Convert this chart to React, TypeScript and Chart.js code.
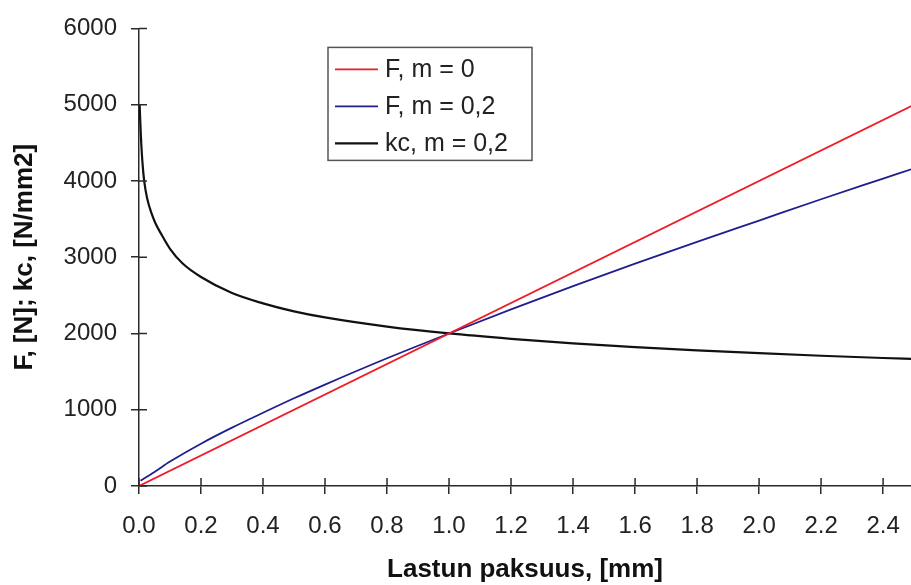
import { useEffect, useRef } from "react";
import { Chart, registerables } from "chart.js";

Chart.register(...registerables);

// ---- data ----
const X_TICKS = [0, 0.2, 0.4, 0.6, 0.8, 1.0, 1.2, 1.4, 1.6, 1.8, 2.0, 2.2, 2.4];
const Y_TICKS = [0, 1000, 2000, 3000, 4000, 5000, 6000];

const SERIES_LABELS = ["F, m = 0", "F, m = 0,2", "kc, m = 0,2"];
const SERIES_COLORS = ["#ee1c25", "#1f1f8f", "#111111"];

// F, m = 0  (straight line)
const F0_H = [0, 2.5];
const F0_VAL = [0, 5000];

// F, m = 0,2
const F02_H = [0.005, 0.05, 0.1, 0.2, 0.3, 0.4, 0.5, 0.6, 0.8, 1.0, 1.2, 1.4, 1.6, 1.8, 2.0, 2.2, 2.4, 2.5];
const F02_VAL = [70, 185, 320, 555, 765, 960, 1150, 1330, 1675, 2000, 2315, 2620, 2915, 3200, 3480, 3760, 4030, 4165];

// kc, m = 0,2
const KC_H = [0.002, 0.006, 0.011, 0.017, 0.027, 0.04, 0.053, 0.07, 0.1, 0.14, 0.2, 0.3, 0.4, 0.5, 0.6, 0.8, 1.0, 1.2, 1.4, 1.6, 1.8, 2.0, 2.2, 2.4, 2.5];
const KC_VAL = [5000, 4600, 4250, 3990, 3760, 3580, 3445, 3316, 3110, 2920, 2740, 2530, 2395, 2290, 2210, 2090, 2000, 1930, 1870, 1820, 1778, 1741, 1708, 1678, 1665];

const X_TITLE = "Lastun paksuus, [mm]";
const Y_TITLE = "F, [N]; kc, [N/mm2]";

const FONT = "'Liberation Sans', Arial, sans-serif";
const AXIS_COLOR = "#2a2a2a";

const toPoints = (xs: number[], ys: number[]) => xs.map((x, i) => ({ x, y: ys[i] }));

export default function App() {
  const ref = useRef<HTMLCanvasElement | null>(null);

  useEffect(() => {
    if (!ref.current) return;

    const innerTicks = {
      id: "innerTicks",
      afterDraw(chart: any) {
        const { ctx, chartArea, scales } = chart;
        ctx.save();
        ctx.strokeStyle = AXIS_COLOR;
        ctx.lineWidth = 1.5;
        ctx.beginPath();
        X_TICKS.forEach((v) => {
          const px = scales.x.getPixelForValue(v);
          ctx.moveTo(px, chartArea.bottom);
          ctx.lineTo(px, chartArea.bottom - 8);
        });
        Y_TICKS.forEach((v) => {
          const py = scales.y.getPixelForValue(v);
          ctx.moveTo(chartArea.left, py);
          ctx.lineTo(chartArea.left + 8, py);
        });
        ctx.stroke();

        // legend box
        const bx = chartArea.left + 189;
        const by = chartArea.top + 19;
        const bw = 204;
        const bh = 113;
        ctx.fillStyle = "#ffffff";
        ctx.fillRect(bx, by, bw, bh);
        ctx.strokeStyle = "#555555";
        ctx.lineWidth = 1.5;
        ctx.strokeRect(bx, by, bw, bh);
        ctx.font = `25px ${FONT}`;
        ctx.textBaseline = "middle";
        ctx.textAlign = "left";
        chart.data.datasets.forEach((ds: any, i: number) => {
          const y = by + 22 + i * 37;
          ctx.strokeStyle = ds.borderColor;
          ctx.lineWidth = ds.borderWidth;
          ctx.beginPath();
          ctx.moveTo(bx + 7, y);
          ctx.lineTo(bx + 50, y);
          ctx.stroke();
          ctx.fillStyle = "#222222";
          ctx.fillText(ds.label, bx + 57, y + 1);
        });
        ctx.restore();
      },
    };

    const chart = new Chart(ref.current, {
      type: "line",
      data: {
        datasets: [
          {
            label: SERIES_LABELS[0],
            data: toPoints(F0_H, F0_VAL),
            borderColor: SERIES_COLORS[0],
            borderWidth: 1.8,
            pointRadius: 0,
            fill: false,
          },
          {
            label: SERIES_LABELS[1],
            data: toPoints(F02_H, F02_VAL),
            borderColor: SERIES_COLORS[1],
            borderWidth: 1.8,
            pointRadius: 0,
            cubicInterpolationMode: "monotone",
            fill: false,
          },
          {
            label: SERIES_LABELS[2],
            data: toPoints(KC_H, KC_VAL),
            borderColor: SERIES_COLORS[2],
            borderWidth: 2.2,
            pointRadius: 0,
            cubicInterpolationMode: "monotone",
            fill: false,
          },
        ],
      },
      options: {
        animation: false,
        responsive: false,
        layout: { padding: { top: 23, right: 0, bottom: 0, left: 0 } },
        plugins: {
          legend: { display: false },
          tooltip: { enabled: false },
        },
        scales: {
          x: {
            type: "linear",
            min: 0,
            max: 2.49,
            afterBuildTicks: (s: any) => {
              s.ticks = X_TICKS.map((v) => ({ value: v }));
            },
            afterFit: (s: any) => {
              s.height = 99;
              s.paddingRight = 0;
              s.paddingLeft = 0;
            },
            ticks: {
              autoSkip: false,
              maxRotation: 0,
              padding: 18,
              color: "#222222",
              font: { family: FONT, size: 24 },
              callback: (v: any) => Number(v).toFixed(1),
            },
            grid: {
              drawOnChartArea: false,
              drawTicks: true,
              tickLength: 8,
              color: AXIS_COLOR,
              lineWidth: 1.5,
            },
            border: { display: true, color: AXIS_COLOR, width: 1.5 },
            title: {
              display: true,
              text: X_TITLE,
              color: "#111111",
              font: { family: FONT, size: 26, weight: "bold" },
              padding: { top: 0, bottom: 0 },
            },
          },
          y: {
            type: "linear",
            min: 0,
            max: 6000,
            afterBuildTicks: (s: any) => {
              s.ticks = Y_TICKS.map((v) => ({ value: v }));
            },
            afterFit: (s: any) => {
              s.width = 139;
            },
            ticks: {
              padding: 14,
              color: "#222222",
              font: { family: FONT, size: 24 },
              callback: (v: any) => String(v),
            },
            grid: {
              drawOnChartArea: false,
              drawTicks: true,
              tickLength: 8,
              color: AXIS_COLOR,
              lineWidth: 1.5,
            },
            border: { display: true, color: AXIS_COLOR, width: 1.5 },
            title: {
              display: true,
              text: Y_TITLE,
              color: "#111111",
              font: { family: FONT, size: 26, weight: "bold" },
              padding: { top: 9, bottom: 0 },
            },
          },
        },
      },
      plugins: [innerTicks],
    } as any);

    return () => chart.destroy();
  }, []);

  return (
    <canvas
      ref={ref}
      width={911}
      height={585}
      style={{ position: "absolute", left: 0, top: 0, width: 911, height: 585, background: "#ffffff" }}
    />
  );
}
